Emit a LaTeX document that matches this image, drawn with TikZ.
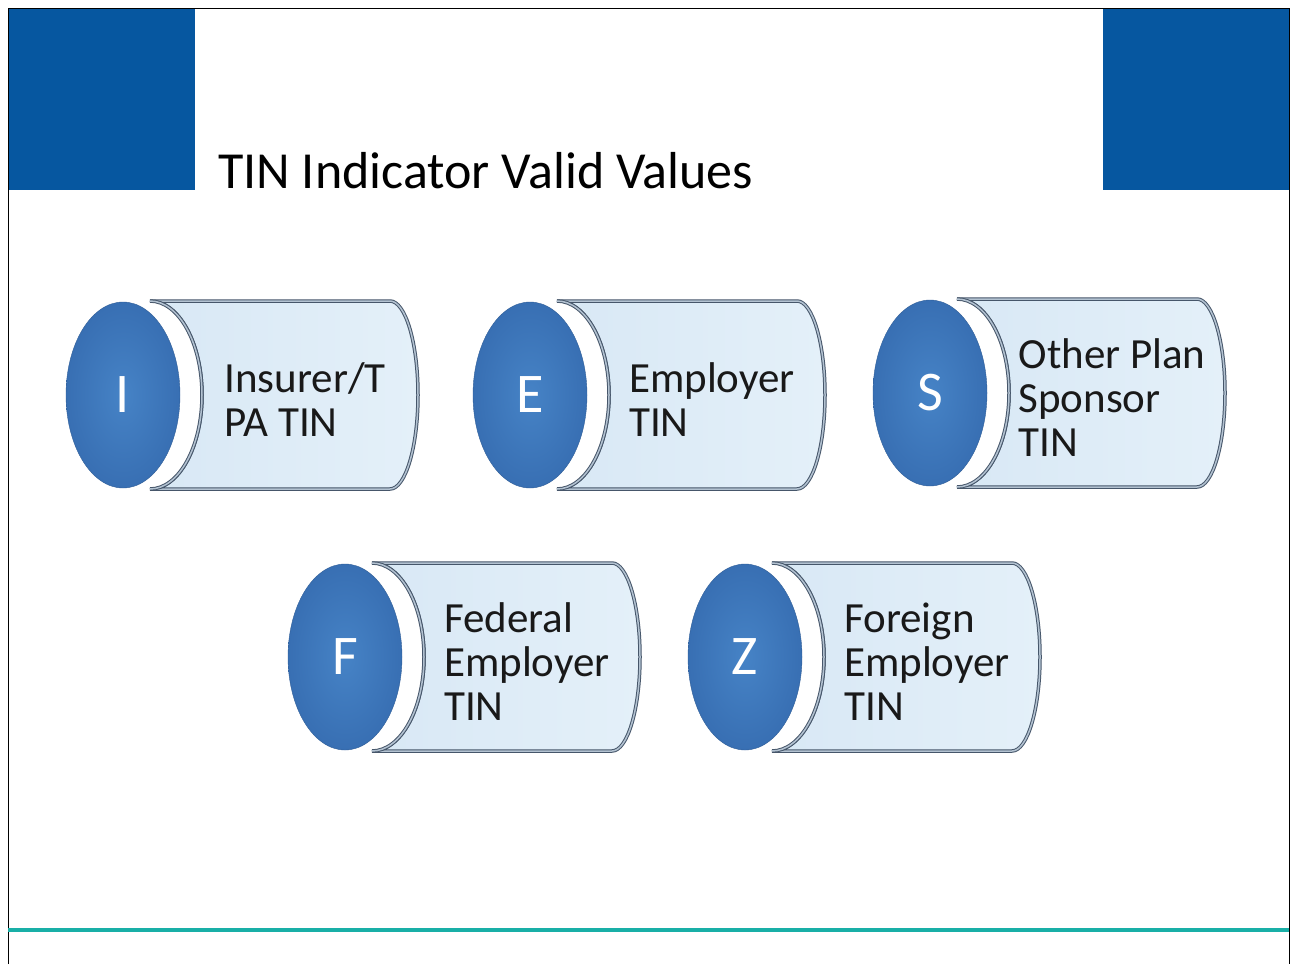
\documentclass[tikz,border=0pt]{standalone}
\usepackage{fontspec}
\setmainfont{Carlito}
\usetikzlibrary{shapes.geometric}

\definecolor{slideblue}{HTML}{0657A0}
\definecolor{rulegreen}{HTML}{19AFA7}
\definecolor{discinner}{HTML}{4683C6}
\definecolor{discouter}{HTML}{386FB3}
\definecolor{bodyleft}{HTML}{D8E8F5}
\definecolor{bodyright}{HTML}{E4F0F9}
\definecolor{rimdark}{HTML}{46566A}
\definecolor{rimlight}{HTML}{B3C2D1}

\tikzset{
	rim/.style={draw=rimdark, double=rimlight, double distance=1.5pt, line width=1pt},
	bodyfill/.style={left color=bodyleft, right color=bodyright},
	disc/.style={ellipse, minimum width=114pt, minimum height=186pt, inner sep=0pt,
		draw=discouter!85!black, line width=0.4pt, inner color=discinner, outer color=discouter,
		text=white, font=\fontsize{56}{56}\selectfont},
	valuetext/.style={align=left, inner sep=0pt, text=black!90, font=\fontsize{43}{44}\selectfont},
}

\begin{document}
\begin{tikzpicture}[x=1pt, y=-1pt]
	\useasboundingbox[fill=white] (0,0) rectangle (1290,964);
	\fill[slideblue] (8,8) rectangle (195,190);
	\fill[slideblue] (1103,8) rectangle (1289,190);
	\draw[black, line width=1pt] (8,964) -- (8,8) -- (1289,8) -- (1289,964);
	\fill[rulegreen] (8,927.5) rectangle (1289,931.5);
	\node[anchor=base west, inner sep=0pt, font=\fontsize{52}{60}\selectfont] (title) at (218,188) {TIN Indicator Valid Values};
	% one cylinder per TIN indicator value
	\foreach \cx/\cy/\l/\n/\t in {123/395/I/ins/{Insurer/T\\PA TIN}, 530/395/E/emp/{Employer\\TIN},
		930/393/S/spo/{Other Plan\\Sponsor\\TIN}, 345/657/F/fed/{Federal\\Employer\\TIN},
		745/657/Z/for/{Foreign\\Employer\\TIN}} {
		\path[bodyfill, rim] (\cx+27,\cy-94) -- (\cx+267,\cy-94)
			arc[start angle=90, end angle=-90, x radius=28pt, y radius=94pt] -- (\cx+27,\cy+94)
			arc[start angle=-90, end angle=90, x radius=52pt, y radius=94pt] -- cycle;
		\fill[white] (\cx+27,\cy) ellipse[x radius=51pt, y radius=93pt];
		\draw[rim] (\cx+27,\cy+94) arc[start angle=-90, end angle=90, x radius=52pt, y radius=94pt];
		\node[disc] (disc\n) at (\cx,\cy) {\l};
		\node[valuetext] (text\n) at (\cx+182,\cy+5) {\t};
	}
\end{tikzpicture}
\end{document}
